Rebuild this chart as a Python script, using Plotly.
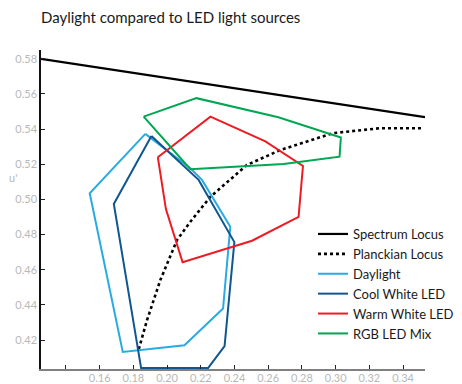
import plotly.graph_objects as go

# Chromaticity coordinates (u', v') of each outline
spectrum_u = [0.1252, 0.3530]
spectrum_v = [0.5800, 0.5468]

planck_u = [0.1832, 0.1881, 0.1960, 0.2059, 0.2138, 0.2257, 0.2474, 0.2672, 0.2985, 0.3264, 0.3521]
planck_v = [0.4148, 0.4313, 0.4541, 0.4769, 0.4873, 0.5015, 0.5196, 0.5281, 0.5377, 0.5405, 0.5405]

daylight_u = [0.1871, 0.2138, 0.2207, 0.2375, 0.2332, 0.2103, 0.1737, 0.1541, 0.1871]
daylight_v = [0.5373, 0.5177, 0.5111, 0.4844, 0.4379, 0.4170, 0.4132, 0.5035, 0.5373]

cool_u = [0.1907, 0.2187, 0.2399, 0.2341, 0.2243, 0.1846, 0.1684, 0.1907]
cool_v = [0.5361, 0.5111, 0.4757, 0.4165, 0.4040, 0.4040, 0.4974, 0.5361]

warm_u = [0.1945, 0.2257, 0.2583, 0.2806, 0.2780, 0.2504, 0.2092, 0.1993, 0.1945]
warm_v = [0.5240, 0.5471, 0.5330, 0.5190, 0.4901, 0.4765, 0.4642, 0.4945, 0.5240]

rgb_u = [0.1861, 0.2174, 0.2660, 0.3031, 0.3023, 0.2691, 0.2138, 0.1861]
rgb_v = [0.5471, 0.5576, 0.5467, 0.5352, 0.5243, 0.5202, 0.5172, 0.5471]

x_ticks = [0.14, 0.16, 0.18, 0.20, 0.22, 0.24, 0.26, 0.28, 0.30, 0.32, 0.34]
x_labels = [""] + [f"{t:.2f}" for t in x_ticks[1:]]
y_ticks = [0.42, 0.44, 0.46, 0.48, 0.50, 0.52, 0.54, 0.56, 0.58]
y_labels = [f"{t:.2f}" for t in y_ticks]

FONT = "Lato"
LABEL_GREY = "#b8b8b8"

series = [
    ("Spectrum Locus", spectrum_u, spectrum_v, "#000000", "solid", 2.2),
    ("Planckian Locus", planck_u, planck_v, "#000000", "dot", 2.6),
    ("Daylight", daylight_u, daylight_v, "#29abe2", "solid", 2),
    ("Cool White LED", cool_u, cool_v, "#11578e", "solid", 2),
    ("Warm White LED", warm_u, warm_v, "#ed1c24", "solid", 2),
    ("RGB LED Mix", rgb_u, rgb_v, "#00a651", "solid", 2),
]

fig = go.Figure()
for name, u, v, color, dash, width in series:
    fig.add_trace(go.Scatter(
        x=u, y=v, mode="lines", name=name,
        line=dict(color=color, dash=dash, width=width),
        hoverinfo="skip",
    ))

fig.update_layout(
    width=462, height=384,
    margin=dict(l=41, r=37, t=50, b=15, autoexpand=False),
    paper_bgcolor="white", plot_bgcolor="white",
    font=dict(family=FONT, color="#1a1a1a"),
    title=dict(
        text="Daylight compared to LED light sources",
        x=41 / 462, xanchor="left", xref="container",
        y=1 - 18 / 384, yanchor="middle", yref="container",
        font=dict(size=15, color="#1a1a1a", family=FONT),
    ),
    xaxis=dict(
        range=[0.1252, 0.353], showgrid=False, zeroline=False,
        showline=True, linecolor="#808080", linewidth=2,
        ticks="inside", ticklen=4, tickcolor="#222222", tickwidth=1,
        tickvals=x_ticks, ticktext=x_labels,
        tickfont=dict(size=11, color=LABEL_GREY, family=FONT),
        ticklabelstandoff=-2,
        automargin=False,
    ),
    yaxis=dict(
        range=[0.4035, 0.585], showgrid=False, zeroline=False,
        showline=True, linecolor="#111111", linewidth=1.5,
        ticks="inside", ticklen=4, tickcolor="#222222", tickwidth=1,
        tickvals=y_ticks, ticktext=y_labels,
        tickfont=dict(size=11, color=LABEL_GREY, family=FONT),
        automargin=False,
    ),
    legend=dict(
        x=313 / 462, xref="container", xanchor="left",
        y=1 - 219 / 384, yref="container", yanchor="top",
        bgcolor="rgba(0,0,0,0)", borderwidth=0,
        font=dict(size=13, color="#1a1a1a", family=FONT),
        itemwidth=30, tracegroupgap=0,
    ),
    showlegend=True,
)

# horizontal y-axis caption
fig.add_annotation(
    text="u'", xref="paper", yref="y", x=0, y=0.5125,
    xanchor="right", yanchor="middle", xshift=-22, showarrow=False,
    font=dict(size=11, color=LABEL_GREY, family=FONT),
)

fig.write_html("out.html")
